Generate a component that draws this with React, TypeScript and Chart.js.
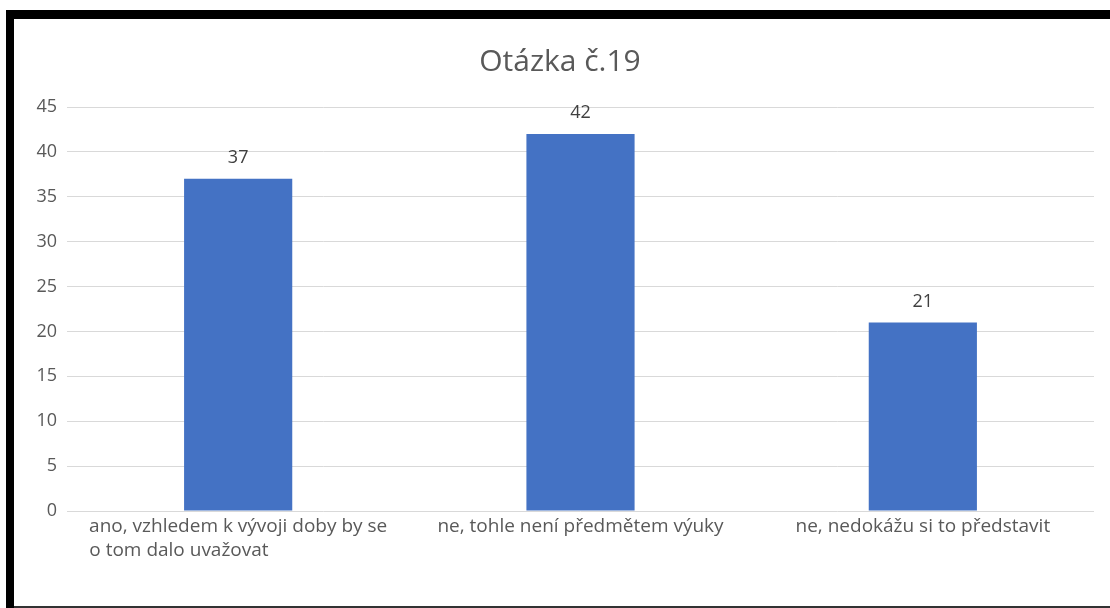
import React, { useEffect, useRef } from "react";
import { Chart, registerables } from "chart.js";

Chart.register(...registerables);

const title = "Otázka č.19";
const categories: (string | string[])[] = [
  ["ano, vzhledem k vývoji doby by se", "o tom dalo uvažovat"],
  "ne, tohle není předmětem výuky",
  "ne, nedokážu si to představit",
];
const values = [37, 42, 21];
const yMax = 45;
const yStep = 5;

const FONT = "'Open Sans', 'Noto Sans', sans-serif";
const LABEL_SIZE = 19;

// pad shorter lines with trailing spaces so a wrapped label reads left-aligned
function leftAlignLines(lines: string[]): string[] {
  const c = document.createElement("canvas").getContext("2d")!;
  c.font = `${LABEL_SIZE}px ${FONT}`;
  const widths = lines.map((l) => c.measureText(l).width);
  const maxW = Math.max(...widths);
  const sp = c.measureText(" ").width;
  return lines.map((l, i) => l + " ".repeat(Math.round((maxW - widths[i]) / sp)));
}

const titlePlugin = {
  id: "customTitle",
  afterDraw(chart: any) {
    const ctx = chart.ctx;
    ctx.save();
    ctx.font = `30px ${FONT}`;
    ctx.fillStyle = "#595959";
    ctx.textAlign = "center";
    ctx.textBaseline = "middle";
    ctx.fillText(title, 560, 62);
    ctx.restore();
  },
};

const dataLabelPlugin = {
  id: "dataLabels",
  afterDatasetsDraw(chart: any) {
    const ctx = chart.ctx;
    const meta = chart.getDatasetMeta(0);
    ctx.save();
    ctx.font = `18px ${FONT}`;
    ctx.fillStyle = "#404040";
    ctx.textAlign = "center";
    ctx.textBaseline = "middle";
    meta.data.forEach((bar: any, i: number) => {
      ctx.fillText(String(values[i]), bar.x, bar.y - 21);
    });
    ctx.restore();
  },
};

export default function App() {
  const ref = useRef<HTMLCanvasElement>(null);
  useEffect(() => {
    if (!ref.current) return;
    const chart = new Chart(ref.current, {
      type: "bar",
      data: {
        labels: categories,
        datasets: [
          {
            data: values,
            backgroundColor: "#4472C4",
            borderWidth: 0,
            categoryPercentage: 1,
            barPercentage: 0.316,
          },
        ],
      },
      options: {
        animation: false,
        responsive: false,
        maintainAspectRatio: false,
        layout: { padding: { top: 107, right: 16, bottom: 0, left: 0 } },
        plugins: {
          legend: { display: false },
          title: { display: false },
          tooltip: { enabled: false },
        },
        scales: {
          x: {
            grid: { display: false, drawTicks: false },
            border: { display: false },
            ticks: {
              color: "#595959",
              font: { family: FONT, size: LABEL_SIZE, lineHeight: 1.3 },
              padding: 3,
              maxRotation: 0,
              autoSkip: false,
              callback(this: any, _v: any, i: number) {
                const lab = categories[i];
                return Array.isArray(lab) ? leftAlignLines(lab) : lab;
              },
            },
            afterFit(scale: any) {
              scale.height = 97;
            },
          },
          y: {
            min: 0,
            max: yMax,
            grid: { color: "#D9D9D9", lineWidth: 1, drawTicks: false },
            border: { display: false },
            ticks: {
              stepSize: yStep,
              color: "#595959",
              font: { family: FONT, size: 18 },
              padding: 10,
            },
            afterFit(scale: any) {
              scale.width = 67;
            },
          },
        },
      },
      plugins: [titlePlugin, dataLabelPlugin],
    });
    return () => chart.destroy();
  }, []);

  return (
    <div
      style={{
        position: "absolute",
        left: 0,
        top: 0,
        width: 1110,
        height: 608,
        background: "#ffffff",
        overflow: "hidden",
      }}
    >
      <canvas
        ref={ref}
        width={1110}
        height={608}
        style={{ position: "absolute", left: 0, top: 0, width: 1110, height: 608 }}
      />
      <div style={{ position: "absolute", left: 6, top: 10, width: 1104, height: 9, background: "#000" }} />
      <div style={{ position: "absolute", left: 6, top: 10, width: 8, height: 598, background: "#000" }} />
      <div style={{ position: "absolute", left: 14, top: 606, width: 1096, height: 2, background: "#333" }} />
    </div>
  );
}
